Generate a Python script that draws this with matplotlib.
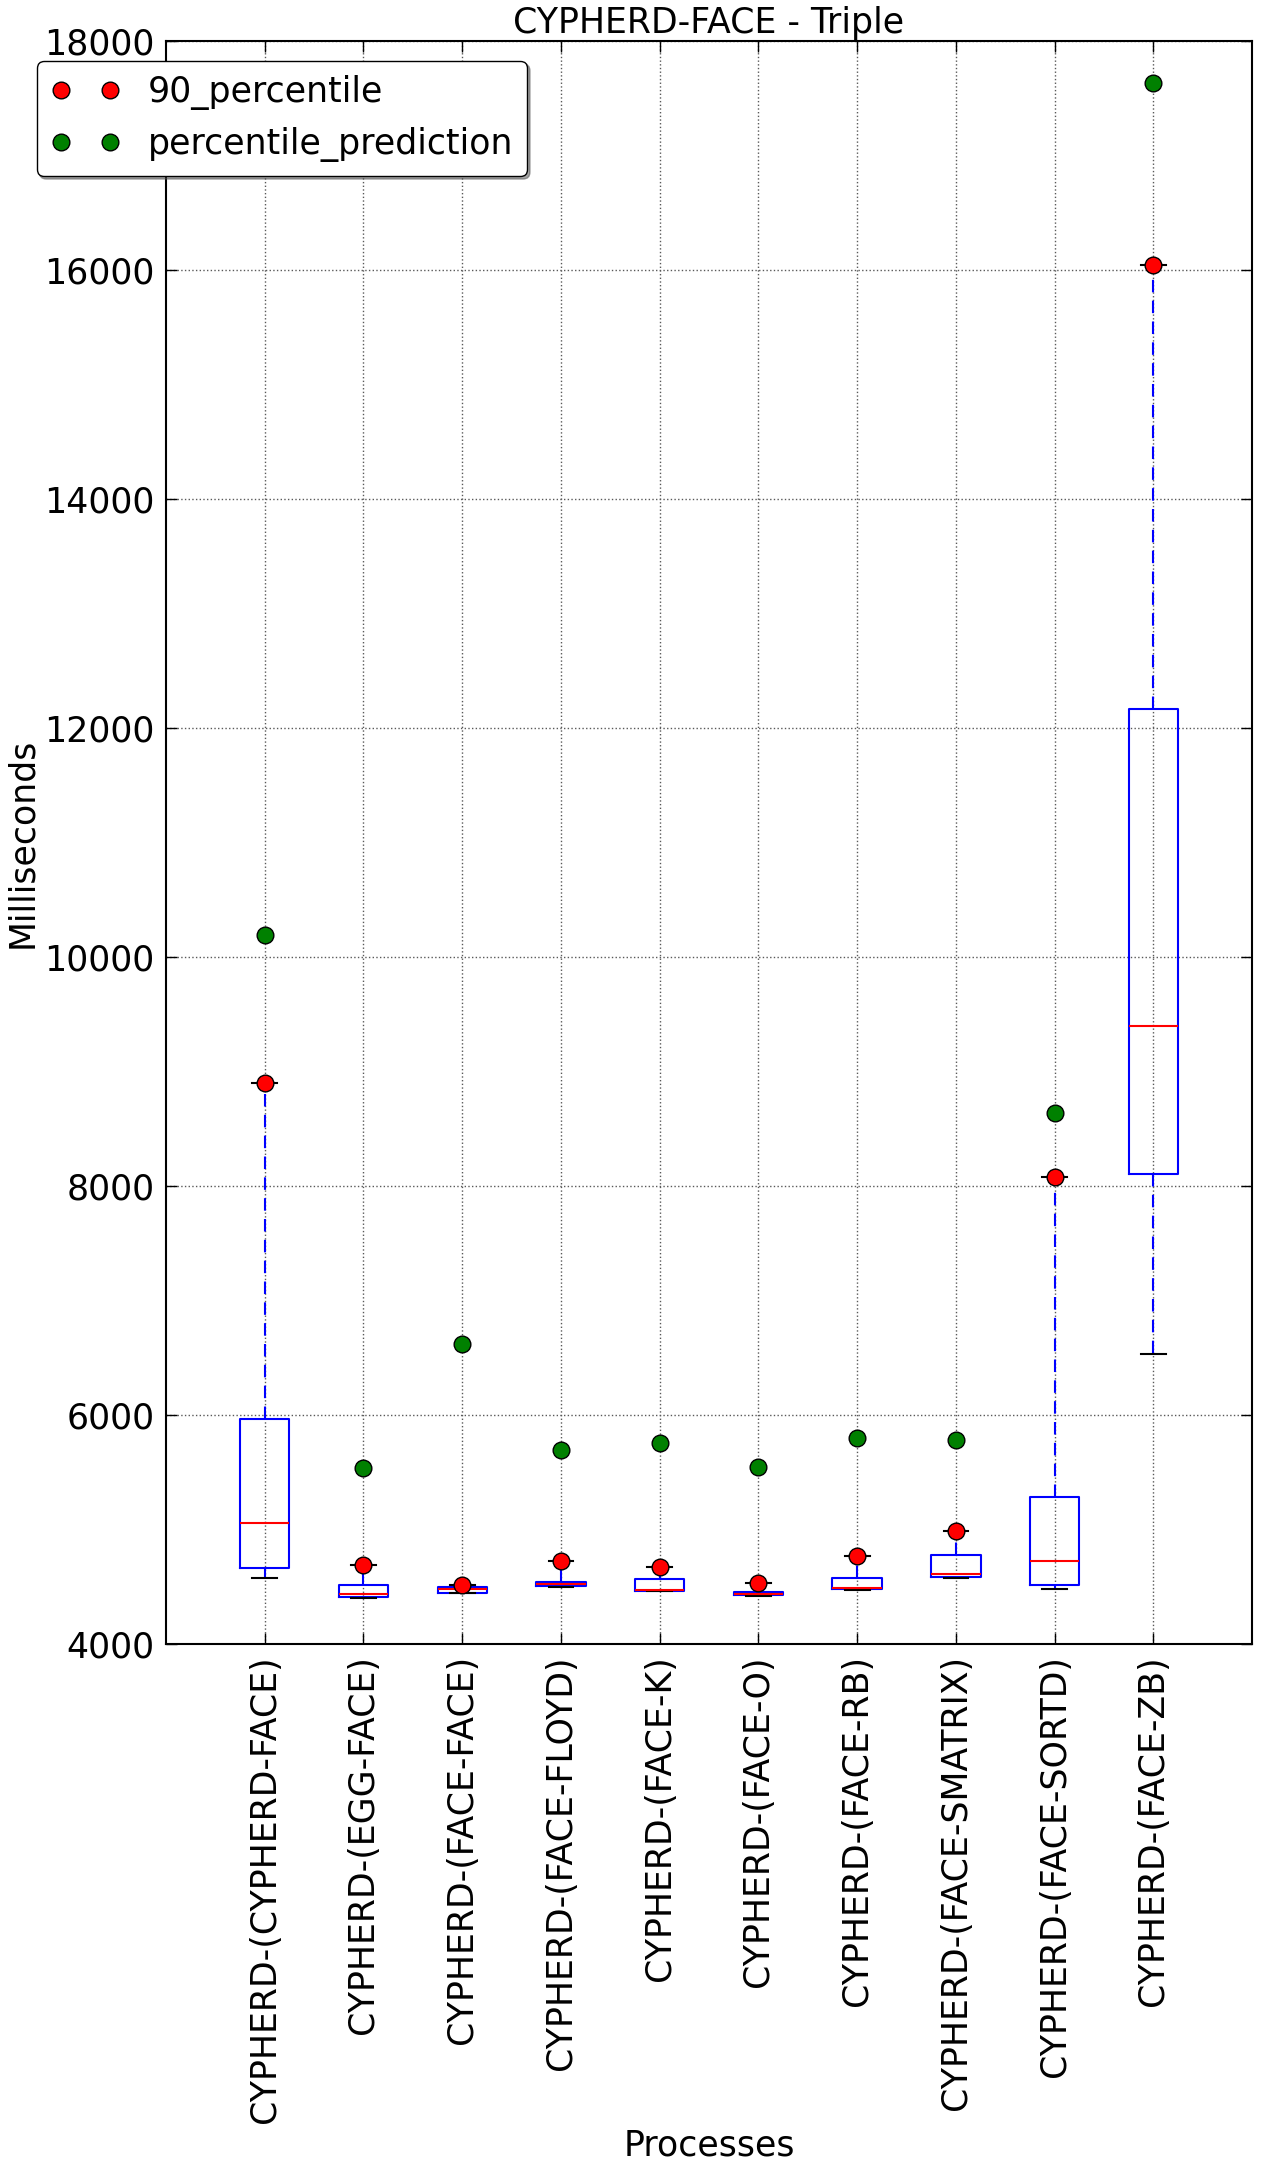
import matplotlib
matplotlib.use('Agg')
import matplotlib.pyplot as plt

plt.rcParams['font.family'] = ['DejaVu Sans']
plt.rcParams['font.size'] = 25

# data
labels = ['CYPHERD-(CYPHERD-FACE)', 'CYPHERD-(EGG-FACE)', 'CYPHERD-(FACE-FACE)',
          'CYPHERD-(FACE-FLOYD)', 'CYPHERD-(FACE-K)', 'CYPHERD-(FACE-O)',
          'CYPHERD-(FACE-RB)', 'CYPHERD-(FACE-SMATRIX)', 'CYPHERD-(FACE-SORTD)',
          'CYPHERD-(FACE-ZB)']
whis_low = [4576, 4400, 4443, 4495, 4460, 4416, 4469, 4574, 4480, 6533]
q1 = [4661, 4408, 4448, 4504, 4466, 4425, 4478, 4582, 4513, 8105]
med = [5054, 4437, 4478, 4524, 4472, 4434, 4492, 4609, 4722, 9400]
q3 = [5963, 4515, 4495, 4541, 4565, 4451, 4574, 4775, 5281, 12165]
p90 = [8900, 4690, 4515, 4722, 4670, 4533, 4769, 4987, 8081, 16040]
prediction = [10190, 5536, 6618, 5691, 5755, 5543, 5796, 5779, 8638, 17632]

stats = []
for i in range(len(labels)):
    stats.append({'whislo': whis_low[i], 'q1': q1[i], 'med': med[i],
                  'q3': q3[i], 'whishi': p90[i], 'fliers': []})

fig = plt.figure(figsize=(12.61, 21.73), dpi=100)
ax = fig.add_axes([0.1316, 0.2434, 0.8614, 0.7377])

pos = list(range(1, len(labels) + 1))
ax.bxp(stats, positions=pos, widths=0.5,
       boxprops=dict(color='b', linewidth=1.5),
       medianprops=dict(color='r', linewidth=1.5),
       whiskerprops=dict(color='b', linestyle=(0, (6, 4)), linewidth=1.5),
       capprops=dict(color='k', linewidth=1.5))

ax.plot(pos, p90, 'o', color='red', markeredgecolor='k', markersize=12,
        label='90_percentile', zorder=5)
ax.plot(pos, prediction, 'o', color='green', markeredgecolor='k', markersize=12,
        label='percentile_prediction', zorder=5)

ax.set_xlim(0, 11)
ax.set_ylim(4000, 18000)
ax.set_yticks(range(4000, 18001, 2000))
ax.set_xticks(pos)
ax.set_xticklabels(labels, rotation=90)
ax.tick_params(direction='in', top=True, right=True, length=8, width=1, pad=8)
for s in ax.spines.values():
    s.set_linewidth(1.5)
ax.grid(True, color='0.35', linestyle=':', linewidth=1)

ax.set_title('CYPHERD-FACE - Triple', fontsize=25)
ax.set_xlabel('Processes', fontsize=25)
ax.set_ylabel('Milliseconds', fontsize=25)

ax.legend(loc='upper left', bbox_to_anchor=(-0.119, 0.9875), borderaxespad=0,
          numpoints=2, fancybox=True, shadow=True, fontsize=25,
          framealpha=1, edgecolor='k')

fig.savefig('out.png', dpi=100)
